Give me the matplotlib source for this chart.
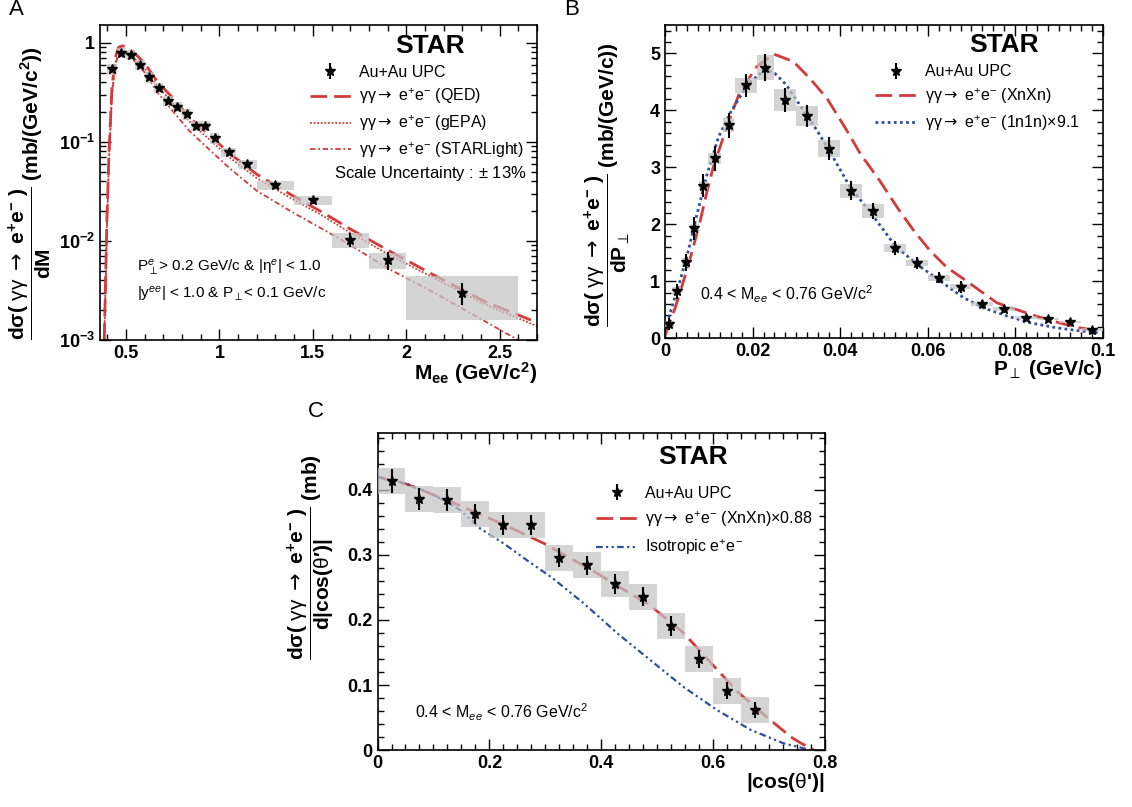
import numpy as np
import matplotlib
matplotlib.use("Agg")
import matplotlib.pyplot as plt
from matplotlib.ticker import MultipleLocator, FixedLocator, FuncFormatter, NullFormatter, LogLocator

plt.rcParams['font.family'] = ['Liberation Sans', 'DejaVu Sans']
plt.rcParams['mathtext.fontset'] = 'custom'
plt.rcParams['mathtext.rm'] = 'Liberation Sans'
plt.rcParams['mathtext.it'] = 'Liberation Sans:italic'
plt.rcParams['mathtext.bf'] = 'Liberation Sans:bold'
plt.rcParams['mathtext.sf'] = 'DejaVu Sans'

RED = '#d43a3a'
BLUE = '#2f4f9a'
BOXC = '#c4c4c4'

# ---------------- Panel A: invariant mass ----------------
mass_pts = [0.425, 0.475, 0.525, 0.575, 0.625, 0.675, 0.725, 0.775, 0.825, 0.875,
            0.925, 0.975, 1.05, 1.15, 1.3, 1.5, 1.7, 1.9, 2.3]
mass_y = [0.54, 0.79, 0.76, 0.60, 0.45, 0.35, 0.26, 0.226, 0.19, 0.145,
          0.145, 0.109, 0.078, 0.0595, 0.0365, 0.0258, 0.0103, 0.0064, 0.0030]
mass_stat = [0.02, 0.03, 0.03, 0.02, 0.015, 0.012, 0.009, 0.008, 0.007, 0.006,
             0.006, 0.005, 0.003, 0.003, 0.002, 0.002, 0.0017, 0.0013, 0.00075]
mass_sys = [0.065, 0.095, 0.09, 0.072, 0.054, 0.042, 0.031, 0.027, 0.023, 0.017,
            0.017, 0.013, 0.008, 0.006, 0.0037, 0.0026, 0.0018, 0.0012, 0.0014]
mass_hw = [0.025] * 12 + [0.04, 0.05, 0.1, 0.1, 0.1, 0.1, 0.3]

mass_curve = [0.383, 0.39, 0.397, 0.408, 0.424, 0.442, 0.46, 0.48, 0.50, 0.54, 0.60, 0.665,
              0.74, 0.84, 0.95, 1.06, 1.2, 1.38, 1.56, 1.70, 1.90, 2.15, 2.42, 2.70]
qed = [0.001, 0.004, 0.016, 0.075, 0.35, 0.71, 0.90, 0.93, 0.91, 0.80, 0.62, 0.41,
       0.29, 0.176, 0.115, 0.075, 0.047, 0.0295, 0.019, 0.0132, 0.0081, 0.0045, 0.00245, 0.0015]
gepa = [0.001, 0.0035, 0.014, 0.066, 0.31, 0.63, 0.79, 0.82, 0.80, 0.71, 0.55, 0.37,
        0.26, 0.159, 0.104, 0.068, 0.043, 0.0272, 0.0176, 0.0121, 0.0074, 0.0042, 0.0023, 0.00138]
mass_sl = [0.383, 0.39, 0.397, 0.408, 0.424, 0.442, 0.46, 0.48, 0.50, 0.54, 0.60, 0.665,
           0.74, 0.84, 0.95, 1.06, 1.2, 1.38, 1.56, 1.70, 1.90, 2.15, 2.42, 2.62]
starlight = [0.001, 0.0034, 0.013, 0.062, 0.29, 0.60, 0.76, 0.79, 0.77, 0.67, 0.50, 0.32,
             0.215, 0.128, 0.082, 0.053, 0.032, 0.020, 0.0129, 0.0091, 0.0053, 0.0030, 0.00155, 0.00095]

# ---------------- Panel B: pair pT ----------------
pt_pts = [0.001, 0.0027, 0.0048, 0.0067, 0.00875, 0.0113, 0.0145, 0.0184, 0.0229, 0.0274,
          0.0324, 0.0375, 0.0424, 0.0475, 0.0526, 0.0575, 0.0625, 0.0675, 0.0725, 0.0775,
          0.0825, 0.0875, 0.0926, 0.0976]
pt_y = [0.25, 0.82, 1.33, 1.93, 2.68, 3.16, 3.74, 4.44, 4.75, 4.18,
        3.90, 3.33, 2.59, 2.23, 1.58, 1.32, 1.06, 0.90, 0.60, 0.51,
        0.36, 0.34, 0.28, 0.15]
pt_stat = [0.1, 0.13, 0.15, 0.2, 0.2, 0.22, 0.22, 0.2, 0.24, 0.21,
           0.19, 0.2, 0.17, 0.14, 0.12, 0.1, 0.1, 0.1, 0.07, 0.07,
           0.05, 0.05, 0.05, 0.05]
pt_sys = [0.05, 0.07, 0.08, 0.08, 0.08, 0.1, 0.12, 0.13, 0.22, 0.19,
          0.18, 0.15, 0.12, 0.12, 0.07, 0.06, 0.05, 0.045, 0.04, 0.03,
          0.025, 0.02, 0.02, 0.02]
pt_hw = [0.001, 0.001, 0.001, 0.001, 0.0011, 0.0015, 0.0013, 0.0025, 0.002, 0.0025,
         0.0025, 0.0025, 0.0025, 0.0025, 0.0025, 0.0025, 0.0025, 0.0025, 0.0025, 0.0025,
         0.0025, 0.0025, 0.0025, 0.0025]

pt_xn = [0.0, 0.0023, 0.0042, 0.0061, 0.008, 0.0095, 0.011, 0.0141, 0.0171, 0.021, 0.0248,
         0.0293, 0.0331, 0.037, 0.0415, 0.0446, 0.049, 0.053, 0.0568, 0.0606, 0.0644,
         0.0682, 0.072, 0.0758, 0.0796, 0.0834, 0.0872, 0.091, 0.0949, 0.0994]
xnxn = [0.05, 0.53, 1.0, 1.5, 2.05, 2.55, 3.0, 3.71, 4.33, 4.77, 4.99,
        4.86, 4.56, 4.21, 3.65, 3.24, 2.77, 2.30, 1.89, 1.53, 1.24,
        1.04, 0.83, 0.62, 0.52, 0.42, 0.33, 0.25, 0.18, 0.12]
pt_1n = [0.0, 0.0015, 0.0034, 0.0053, 0.0072, 0.0095, 0.0122, 0.0152, 0.019, 0.0229, 0.0251,
         0.0278, 0.0316, 0.0347, 0.0377, 0.0423, 0.0472, 0.0526, 0.0575, 0.0629, 0.0682,
         0.0728, 0.0781, 0.0834, 0.0895, 0.0956, 0.0994]
onen = [0.15, 0.53, 1.0, 1.53, 2.15, 2.85, 3.53, 4.0, 4.47, 4.72, 4.65,
        4.44, 4.0, 3.65, 3.27, 2.65, 2.18, 1.62, 1.30, 1.0, 0.71,
        0.53, 0.39, 0.27, 0.18, 0.12, 0.09]

# ---------------- Panel C: |cos(theta')| ----------------
cos_pts = [0.025, 0.075, 0.125, 0.175, 0.225, 0.275, 0.325, 0.375, 0.425, 0.475,
           0.525, 0.575, 0.625, 0.675]
cos_y = [0.414, 0.386, 0.384, 0.363, 0.346, 0.346, 0.296, 0.284, 0.255, 0.236,
         0.191, 0.140, 0.091, 0.0615]
cos_stat = [0.018, 0.017, 0.017, 0.016, 0.016, 0.016, 0.015, 0.015, 0.015, 0.015,
            0.015, 0.014, 0.013, 0.012]
cos_sys = [0.02] * 14
cos_hw = [0.025] * 14

cos_xn = [0.0, 0.025, 0.052, 0.136, 0.225, 0.297, 0.392, 0.434, 0.488, 0.547, 0.595,
          0.643, 0.697, 0.739, 0.756, 0.78]
cos_xnxn = [0.420, 0.414, 0.409, 0.380, 0.347, 0.318, 0.272, 0.250, 0.222, 0.180, 0.135,
            0.090, 0.050, 0.020, 0.011, 0.0]
cos_iso_x = [0.0, 0.05, 0.1, 0.148, 0.183, 0.225, 0.267, 0.312, 0.368, 0.41, 0.428,
             0.488, 0.547, 0.607, 0.667, 0.726, 0.774]
cos_iso = [0.420, 0.410, 0.393, 0.369, 0.341, 0.318, 0.292, 0.265, 0.226, 0.194, 0.180,
           0.138, 0.097, 0.0615, 0.031, 0.0103, 0.0]

NUM = r'\mathbf{d\sigma(}\ \mathrm{\gamma\gamma}\ \mathsf{\rightarrow}\ \mathbf{e^{+}e^{-}}\ \mathbf{)}'
GG = r'γγ$\mathsf{\rightarrow}$ e$^{+}$e$^{-}$'


def estilo(ax):
    ax.tick_params(which='both', direction='in', top=True, right=True, width=1, labelsize=13)
    ax.tick_params(which='major', length=8)
    ax.tick_params(which='minor', length=4)
    for s in ax.spines.values():
        s.set_linewidth(1.2)


def datos(ax, x, y, stat, sys_, hw):
    x = np.array(x); y = np.array(y); sys_ = np.array(sys_); hw = np.array(hw)
    ax.bar(x, 2 * sys_, width=2 * hw, bottom=y - sys_, color=BOXC, alpha=0.72,
           linewidth=0, zorder=3)
    return ax.errorbar(x, y, yerr=stat, fmt='*', color='k', ms=7, elinewidth=1.5,
                       capsize=0, zorder=4, label='Au+Au UPC')


fig = plt.figure(figsize=(11.32, 8.07), dpi=100)

# ---- A ----
axA = fig.add_axes([0.0883, 0.5787, 0.386, 0.390])
lq, = axA.plot(mass_curve, qed, color=RED, lw=2.0, dashes=(6, 2.5), zorder=2)
lg, = axA.plot(mass_curve, gepa, color=RED, lw=1.3, dashes=(1, 1), zorder=2)
ls, = axA.plot(mass_sl, starlight, color=RED, lw=1.3, dashes=(3, 1.5, 1, 1.5), zorder=2)
hA = datos(axA, mass_pts, mass_y, mass_stat, mass_sys, mass_hw)
axA.set_yscale('log')
axA.set_xlim(0.36, 2.7)
axA.set_ylim(1e-3, 1.5)
axA.xaxis.set_major_locator(FixedLocator([0.5, 1.0, 1.5, 2.0, 2.5]))
axA.xaxis.set_minor_locator(MultipleLocator(0.1))
axA.xaxis.set_major_formatter(FuncFormatter(lambda v, p: '%g' % v))
axA.yaxis.set_major_locator(FixedLocator([1e-3, 1e-2, 1e-1, 1]))
axA.yaxis.set_minor_locator(LogLocator(subs=np.arange(2, 10)))
axA.yaxis.set_minor_formatter(NullFormatter())
axA.yaxis.set_major_formatter(FuncFormatter(
    lambda v, p: '1' if abs(v - 1) < 1e-9 else r'$\mathbf{10^{%d}}$' % round(np.log10(v))))
estilo(axA)
axA.legend([hA, lq, lg, ls],
           ['Au+Au UPC', GG + ' (QED)', GG + ' (gEPA)', GG + ' (STARLight)'],
           loc='upper left', bbox_to_anchor=(0.48, 0.875), frameon=False, fontsize=11.5,
           handlelength=2.6, handletextpad=0.5, labelspacing=0.45, borderpad=0, borderaxespad=0)
axA.text(0.755, 0.935, 'STAR', transform=axA.transAxes, ha='center', va='center',
         fontsize=19, fontweight='bold')
axA.text(0.755, 0.53, r'Scale Uncertainty : $\pm$ 13%', transform=axA.transAxes,
         ha='center', va='center', fontsize=12)
axA.text(0.085, 0.229, r'P$_{\perp}^{e}$> 0.2 GeV/c & |$\mathrm{\eta}^{e}$| < 1.0',
         transform=axA.transAxes, ha='left', va='center', fontsize=11)
axA.text(0.085, 0.143, r'|y$^{ee}$| < 1.0 & P$_{\perp}$< 0.1 GeV/c',
         transform=axA.transAxes, ha='left', va='center', fontsize=11)
axA.text(1.0, -0.065, r'M$_{\mathbf{ee}}$ (GeV/c$^{\mathbf{2}}$)', transform=axA.transAxes,
         ha='right', va='top', fontsize=15, fontweight='bold')
axA.text(-0.16, 0.465,
         r'$\dfrac{' + NUM + r'}{\mathbf{dM}}$ $\mathbf{(mb/(GeV/c^{2}))}$',
         transform=axA.transAxes, rotation=90, ha='center', va='center', fontsize=15)
fig.text(0.008, 0.988, 'A', ha='left', va='center', fontsize=16)

# ---- B ----
axB = fig.add_axes([0.5875, 0.581, 0.3867, 0.388])
lx, = axB.plot(pt_xn, xnxn, color=RED, lw=2.0, dashes=(6, 2.5), zorder=2)
l1, = axB.plot(pt_1n, onen, color=BLUE, lw=2.0, dashes=(1, 1.2), zorder=2)
hB = datos(axB, pt_pts, pt_y, pt_stat, pt_sys, pt_hw)
axB.set_xlim(0, 0.1)
axB.set_ylim(0, 5.5)
axB.xaxis.set_major_locator(MultipleLocator(0.02))
axB.xaxis.set_minor_locator(MultipleLocator(0.0025))
axB.yaxis.set_major_locator(MultipleLocator(1))
axB.yaxis.set_minor_locator(MultipleLocator(0.2))
axB.xaxis.set_major_formatter(FuncFormatter(lambda v, p: '%g' % round(v, 4)))
axB.yaxis.set_major_formatter(FuncFormatter(lambda v, p: '%g' % round(v, 4)))
estilo(axB)
axB.legend([hB, lx, l1],
           ['Au+Au UPC', GG + ' (XnXn)', GG + r' (1n1n)$\times$9.1'],
           loc='upper left', bbox_to_anchor=(0.48, 0.875), frameon=False, fontsize=11.5,
           handlelength=2.6, handletextpad=0.5, labelspacing=0.45, borderpad=0, borderaxespad=0)
axB.text(0.775, 0.935, 'STAR', transform=axB.transAxes, ha='center', va='center',
         fontsize=19, fontweight='bold')
axB.text(0.08, 0.14, r'0.4 < M$_{ee}$ < 0.76 GeV/c$^{2}$', transform=axB.transAxes,
         ha='left', va='center', fontsize=11.5)
axB.text(1.0, -0.065, r'P$_{\perp}$ (GeV/c)', transform=axB.transAxes,
         ha='right', va='top', fontsize=15, fontweight='bold')
axB.text(-0.13, 0.49,
         r'$\dfrac{' + NUM + r'}{\mathbf{dP}_{\perp}}$ $\mathbf{(mb/(GeV/c))}$',
         transform=axB.transAxes, rotation=90, ha='center', va='center', fontsize=15)
fig.text(0.498, 0.988, 'B', ha='left', va='center', fontsize=16)

# ---- C ----
axC = fig.add_axes([0.3335, 0.0706, 0.3953, 0.3924])
lc, = axC.plot(cos_xn, cos_xnxn, color=RED, lw=2.0, dashes=(6, 2.5), zorder=2)
li, = axC.plot(cos_iso_x, cos_iso, color=BLUE, lw=1.6, dashes=(3, 1.5, 1, 1.5, 1, 1.5), zorder=2)
hC = datos(axC, cos_pts, cos_y, cos_stat, cos_sys, cos_hw)
axC.set_xlim(0, 0.8)
axC.set_ylim(0, 0.487)
axC.xaxis.set_major_locator(MultipleLocator(0.2))
axC.xaxis.set_minor_locator(MultipleLocator(0.025))
axC.yaxis.set_major_locator(MultipleLocator(0.1))
axC.yaxis.set_minor_locator(MultipleLocator(0.02))
axC.xaxis.set_major_formatter(FuncFormatter(lambda v, p: '%g' % round(v, 4)))
axC.yaxis.set_major_formatter(FuncFormatter(lambda v, p: '%g' % round(v, 4)))
estilo(axC)
axC.legend([hC, lc, li],
           ['Au+Au UPC', GG + r' (XnXn)$\times$0.88', r'Isotropic e$^{+}$e$^{-}$'],
           loc='upper left', bbox_to_anchor=(0.488, 0.835), frameon=False, fontsize=11.5,
           handlelength=2.6, handletextpad=0.5, labelspacing=0.55, borderpad=0, borderaxespad=0)
axC.text(0.705, 0.925, 'STAR', transform=axC.transAxes, ha='center', va='center',
         fontsize=19, fontweight='bold')
axC.text(0.084, 0.12, r'0.4 < M$_{ee}$ < 0.76 GeV/c$^{2}$', transform=axC.transAxes,
         ha='left', va='center', fontsize=11.5)
axC.text(1.0, -0.065, r"|cos($\mathrm{\theta}$')|", transform=axC.transAxes,
         ha='right', va='top', fontsize=15, fontweight='bold')
axC.text(-0.15, 0.61,
         r'$\dfrac{' + NUM + r"}{\mathbf{d|cos(}\mathrm{\theta}\mathbf{\prime)|}}$ $\mathbf{(mb)}$",
         transform=axC.transAxes, rotation=90, ha='center', va='center', fontsize=15)
fig.text(0.272, 0.49, 'C', ha='left', va='center', fontsize=16)

for ax in (axA, axB, axC):
    plt.setp(ax.get_xticklabels(), fontweight='bold')
    plt.setp(ax.get_yticklabels(), fontweight='bold')

fig.savefig('out.png', dpi=100)
